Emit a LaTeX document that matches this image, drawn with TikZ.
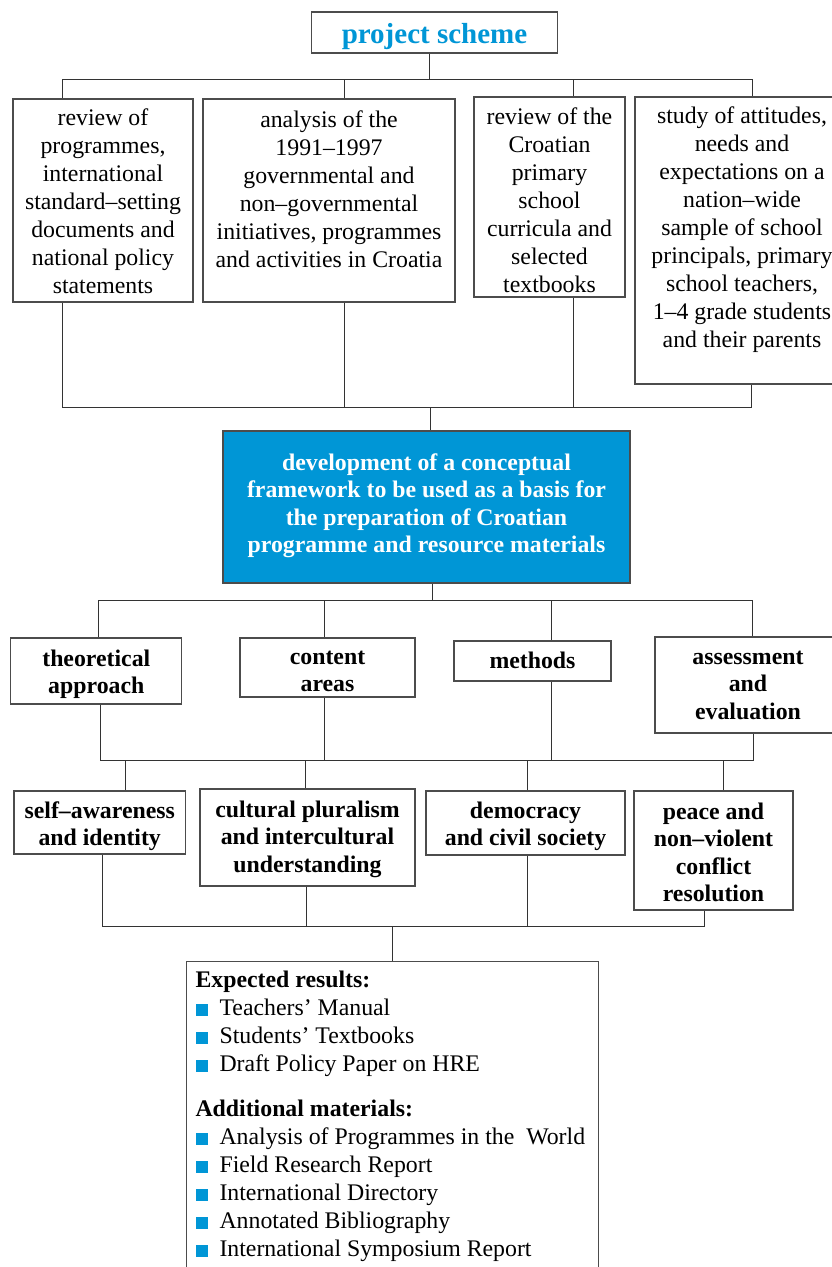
\documentclass[tikz,border=0pt]{standalone}
\usepackage{fontspec}
\setmainfont{Liberation Serif}
\usepackage{tikz}

\definecolor{schemeblue}{RGB}{0,150,214}
% width, height, first baseline below the top, lines
\newcommand{\celltext}[4]{\parbox[c][#2][t]{#1}{\centering
  \vspace*{\dimexpr#3-0.7\baselineskip\relax}\strut#4\par}}
\newcommand{\sqbullet}{\textcolor{schemeblue}{\rule{12pt}{12pt}}\hspace{12pt}}

\tikzset{
  plainbox/.style={draw=black!70, line width=1.1pt, inner sep=0pt, fill=white,
    font=\fontsize{23.8}{28}\selectfont},
  boldbox/.style={draw=black!70, line width=1.1pt, inner sep=0pt, fill=white,
    font=\fontsize{23.8}{27.5}\selectfont\bfseries},
  titlebox/.style={boldbox, text=schemeblue, font=\fontsize{29}{34}\selectfont\bfseries},
  link/.style={draw=black!80, line width=0.9pt},
}

\begin{document}
\begin{tikzpicture}[x=1pt,y=-1pt]
\useasboundingbox[fill=white] (0,0) rectangle (831,1267);

\node[titlebox] (title) at (434.5,32.5) {\celltext{246pt}{41pt}{31pt}{project scheme}};

% sources
\node[plainbox] (rev) at (103,200.5) {\celltext{180pt}{203pt}{26pt}{review of\\programmes,\\international\\standard–setting\\documents and\\national policy\\statements}};
\node[plainbox] (ana) at (329,200.5) {\celltext{252pt}{203pt}{28pt}{analysis of the\\1991–1997\\governmental and\\non–governmental\\initiatives, programmes\\and activities in Croatia}};
\node[plainbox] (cur) at (549.5,197) {\celltext{151pt}{200pt}{27pt}{review of the\\Croatian\\primary\\school\\curricula and\\selected\\textbooks}};
\node[plainbox] (att) at (742,240.5) {\celltext{214pt}{287pt}{26pt}{study of attitudes,\\needs and\\expectations on a\\nation–wide\\sample of school\\principals, primary\\school teachers,\\1–4 grade students\\and their parents}};

\node[boldbox, fill=schemeblue, text=white] (frame) at (426.5,507) {\celltext{407pt}{152pt}{39pt}{development of a conceptual\\framework to be used as a basis for\\the preparation of Croatian\\programme and resource materials}};

\node[boldbox] (theo) at (96.3,671) {\celltext{171pt}{66pt}{28pt}{theoretical\\approach}};
\node[boldbox] (cont) at (327.5,667.5) {\celltext{175pt}{59pt}{26pt}{content\\areas}};
\node[boldbox] (meth) at (532.5,661) {\celltext{157pt}{40pt}{27pt}{methods}};
\node[boldbox] (asse) at (748,685) {\celltext{186pt}{96pt}{27pt}{assessment\\and\\evaluation}};

\node[boldbox] (self) at (99.75,822.5) {\celltext{171.5pt}{63pt}{27pt}{self–awareness\\and identity}};
\node[boldbox] (cult) at (307.5,837.5) {\celltext{215pt}{97pt}{28pt}{cultural pluralism\\and intercultural\\understanding}};
\node[boldbox] (demo) at (525.5,823) {\celltext{199pt}{64pt}{27pt}{democracy\\and civil society}};
\node[boldbox] (peace) at (713.5,850.5) {\celltext{159pt}{119pt}{28pt}{peace and\\non–violent\\conflict\\resolution}};

\node[plainbox, anchor=north west] (res) at (186,961) {\parbox[t][340pt][t]{412pt}{\raggedright\leftskip=9pt
  \vspace*{6.4pt}\strut\textbf{Expected results:}\\
  \sqbullet Teachers’ Manual\\
  \sqbullet Students’ Textbooks\\
  \sqbullet Draft Policy Paper on HRE\\[17pt]
  \textbf{Additional materials:}\\
  \sqbullet Analysis of Programmes in the\ \ World\\
  \sqbullet Field Research Report\\
  \sqbullet International Directory\\
  \sqbullet Annotated Bibliography\\
  \sqbullet International Symposium Report\par}};

\coordinate (top) at (429,79);
\coordinate (t1) at (62,79);
\coordinate (t2) at (344,79);
\coordinate (t3) at (573,79);
\coordinate (t4) at (752,79);
\coordinate (mid) at (430,407);
\coordinate (m1) at (62,407);
\coordinate (m2) at (344,407);
\coordinate (m3) at (573,407);
\coordinate (m4) at (751,407);
\coordinate (f0) at (432,600);
\coordinate (f1) at (98,600);
\coordinate (f2) at (324,600);
\coordinate (f3) at (551,600);
\coordinate (f4) at (752,600);
\coordinate (g1) at (100,760);
\coordinate (g2) at (324,760);
\coordinate (g3) at (551,760);
\coordinate (g4) at (753,760);
\coordinate (h1) at (125,760);
\coordinate (h2) at (305,760);
\coordinate (h3) at (527,760);
\coordinate (h4) at (723,760);
\coordinate (k0) at (392,926);
\coordinate (k1) at (102,926);
\coordinate (k2) at (306,926);
\coordinate (k3) at (527,926);
\coordinate (k4) at (704,926);

\draw[link] (title.south -| top) -- (top);
\draw[link] (t1) -- (t4);
\draw[link] (t1) -- (rev.north -| t1);
\draw[link] (t2) -- (ana.north -| t2);
\draw[link] (t3) -- (cur.north -| t3);
\draw[link] (t4) -- (att.north -| t4);

\draw[link] (rev.south -| m1) -- (m1) -- (m4) -- (att.south -| m4);
\draw[link] (ana.south -| m2) -- (m2);
\draw[link] (cur.south -| m3) -- (m3);
\draw[link] (mid) -- (frame.north -| mid);

\draw[link] (frame.south -| f0) -- (f0);
\draw[link] (f1) -- (f4);
\draw[link] (f1) -- (theo.north -| f1);
\draw[link] (f2) -- (cont.north -| f2);
\draw[link] (f3) -- (meth.north -| f3);
\draw[link] (f4) -- (asse.north -| f4);

\draw[link] (theo.south -| g1) -- (g1) -- (g4) -- (asse.south -| g4);
\draw[link] (cont.south -| g2) -- (g2);
\draw[link] (meth.south -| g3) -- (g3);
\draw[link] (h1) -- (self.north -| h1);
\draw[link] (h2) -- (cult.north -| h2);
\draw[link] (h3) -- (demo.north -| h3);
\draw[link] (h4) -- (peace.north -| h4);

\draw[link] (self.south -| k1) -- (k1) -- (k4) -- (peace.south -| k4);
\draw[link] (cult.south -| k2) -- (k2);
\draw[link] (demo.south -| k3) -- (k3);
\draw[link] (k0) -- (res.north -| k0);

\end{tikzpicture}
\end{document}
